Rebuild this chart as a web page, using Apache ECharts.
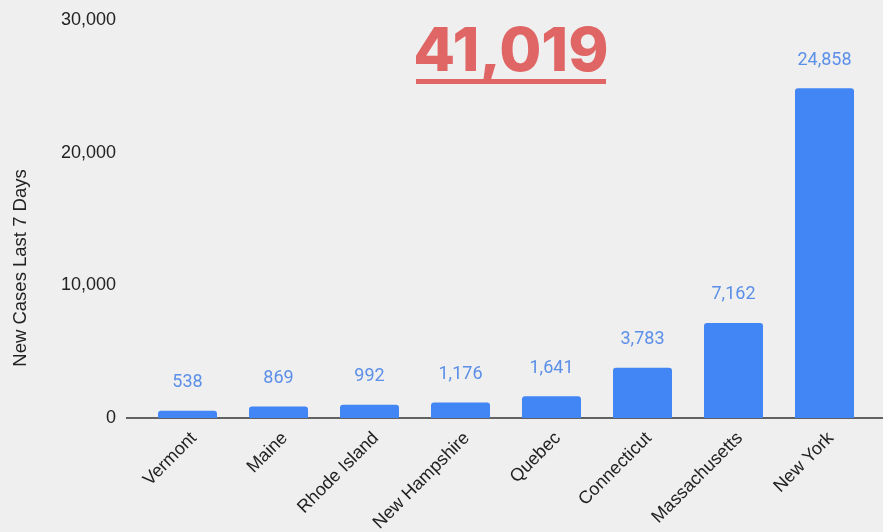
<!doctype html>
<html lang="en">
<head>
    <meta charset="UTF-8">
    <script src="https://cdn.jsdelivr.net/npm/echarts@6/dist/echarts.min.js"></script>
    <title>New Cases Last 7 Days</title>
    <style>
        html, body { margin: 0; padding: 0; background: #efefef; }
    </style>
</head>
<body>
<div id="main" style="width: 883px;height:532px;"></div>
<script>
    // data
    var places = ['Vermont', 'Maine', 'Rhode Island', 'New Hampshire', 'Quebec', 'Connecticut', 'Massachusetts', 'New York'];
    var newCases = [538, 869, 992, 1176, 1641, 3783, 7162, 24858];
    var totalText = '41,019';

    var myChart = echarts.init(document.getElementById('main'));

    var option = {
        backgroundColor: '#efefef',
        animation: false,
        grid: {
            top: 20,
            bottom: 114,
            left: 142,
            right: 13,
            outerBoundsMode: 'none'
        },
        graphic: [
            {
                // big total on top, underlined
                type: 'text',
                x: 511,
                y: 53,
                style: {
                    text: totalText,
                    fill: '#e06666',
                    align: 'center',
                    verticalAlign: 'middle',
                    font: '800 61px Inter, "Open Sans", sans-serif'
                }
            },
            {
                type: 'rect',
                shape: {x: 416, y: 79, width: 190, height: 5},
                style: {fill: '#e06666'}
            },
            {
                // baseline runs past the bars like in the original
                type: 'line',
                shape: {x1: 126, y1: 418, x2: 883, y2: 418},
                style: {stroke: '#333', lineWidth: 1.5}
            }
        ],
        xAxis: {
            type: 'category',
            data: places,
            axisLine: {show: false},
            axisTick: {show: false},
            axisLabel: {
                rotate: 45,
                interval: 0,
                margin: 11,
                verticalAlign: 'top',
                color: '#222',
                fontSize: 18,
                fontFamily: 'Liberation Sans, Arial, sans-serif'
            }
        },
        yAxis: {
            type: 'value',
            min: 0,
            max: 30000,
            interval: 10000,
            name: 'New Cases Last 7 Days',
            nameLocation: 'middle',
            nameGap: 112,
            nameTextStyle: {
                color: '#222',
                fontSize: 18.5,
                fontFamily: 'Liberation Sans, Arial, sans-serif',
                padding: [0, 98, 0, 0]
            },
            splitLine: {show: false},
            axisLabel: {
                margin: 26,
                color: '#222',
                fontSize: 18,
                fontFamily: 'Liberation Sans, Arial, sans-serif',
                formatter: function (v) {
                    return v.toLocaleString('en-US');
                }
            }
        },
        series: [
            {
                type: 'bar',
                data: newCases,
                barWidth: 59,
                itemStyle: {
                    color: '#4285f4',
                    borderRadius: [3, 3, 0, 0]
                },
                label: {
                    show: true,
                    position: 'top',
                    distance: 19,
                    color: '#5b8fe8',
                    fontSize: 18,
                    fontFamily: 'Roboto, sans-serif',
                    formatter: function (p) {
                        return p.value.toLocaleString('en-US');
                    }
                }
            }
        ]
    };

    myChart.setOption(option);
</script>
</body>
</html>
